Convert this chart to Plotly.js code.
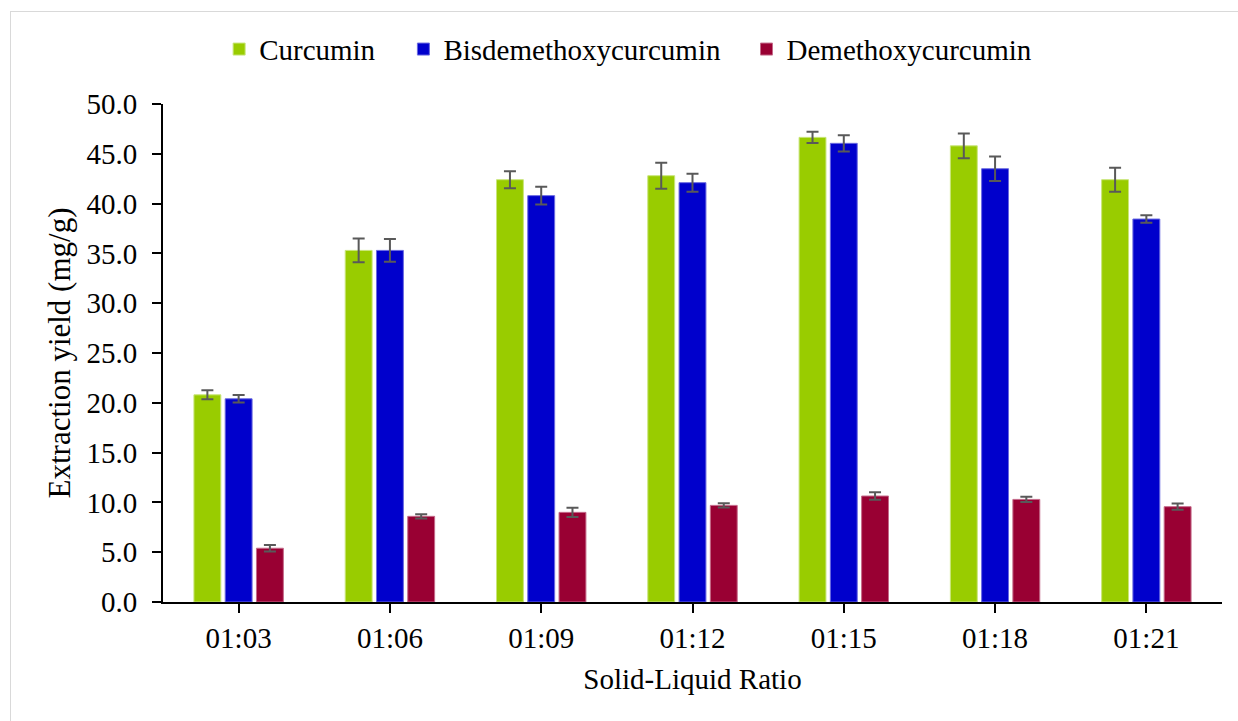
<!DOCTYPE html>
<html>
<head>
<meta charset="utf-8">
<script src="https://cdn.plot.ly/plotly-3.0.1.min.js"></script>
<style>
  html, body { margin: 0; padding: 0; background: #fff; }
  #wrap { position: relative; width: 1238px; height: 721px; }
  #chart { width: 1238px; height: 721px; }
  #frame { position: absolute; left: 10px; top: 11px; right: 0; bottom: 0;
           border-top: 1.5px solid #d9d9d9; border-left: 1.5px solid #d9d9d9;
           pointer-events: none; }
</style>
</head>
<body>
<div id="wrap">
  <div id="chart"></div>
  <div id="frame"></div>
</div>
<script>
const categories = ['01:03', '01:06', '01:09', '01:12', '01:15', '01:18', '01:21'];

const curcumin = [20.8, 35.3, 42.4, 42.8, 46.65, 45.8, 42.4];
const curcuminErr = [0.45, 1.2, 0.85, 1.3, 0.57, 1.24, 1.2];

const bisdemethoxy = [20.4, 35.3, 40.8, 42.1, 46.05, 43.5, 38.45];
const bisdemethoxyErr = [0.38, 1.15, 0.9, 0.9, 0.82, 1.24, 0.38];

const demethoxy = [5.4, 8.6, 9.0, 9.7, 10.64, 10.3, 9.57];
const demethoxyErr = [0.33, 0.22, 0.47, 0.22, 0.38, 0.27, 0.32];

const yTicks = [0, 5, 10, 15, 20, 25, 30, 35, 40, 45, 50];

const FONT = '"Liberation Serif", "Times New Roman", serif';

function errStyle(arr) {
  return { type: 'data', array: arr, visible: true, color: '#595959', thickness: 2, width: 6 };
}

const traces = [
  { type: 'bar', name: 'Curcumin', x: categories, y: curcumin, legend: 'legend',
    marker: { color: '#99CC00', line: { color: '#c9e57a', width: 1 } },
    error_y: errStyle(curcuminErr) },
  { type: 'bar', name: 'Bisdemethoxycurcumin', x: categories, y: bisdemethoxy, legend: 'legend2',
    marker: { color: '#0000CC', line: { color: '#6a6ae0', width: 1 } },
    error_y: errStyle(bisdemethoxyErr) },
  { type: 'bar', name: 'Demethoxycurcumin', x: categories, y: demethoxy, legend: 'legend3',
    marker: { color: '#990033', line: { color: '#c46a8a', width: 1 } },
    error_y: errStyle(demethoxyErr) }
];

function legendAt(x) {
  return {
    orientation: 'h', x: x, xanchor: 'left', y: 1.11, yanchor: 'middle',
    bgcolor: 'rgba(0,0,0,0)',
    font: { family: FONT, size: 29, color: '#000' },
    itemclick: false, itemdoubleclick: false
  };
}

const layout = {
  width: 1238, height: 721,
  margin: { l: 163, r: 16, t: 104, b: 119, pad: 0 },
  paper_bgcolor: '#fff', plot_bgcolor: '#fff',
  font: { family: FONT, size: 29, color: '#000' },
  barmode: 'group',
  bargap: 0.38,
  bargroupgap: 0.14,
  showlegend: true,
  legend: legendAt(0.053),
  legend2: legendAt(0.227),
  legend3: legendAt(0.551),
  xaxis: {
    type: 'category',
    showgrid: false, zeroline: false,
    showline: true, linecolor: '#000', linewidth: 2,
    ticks: 'outside', ticklen: 9, tickwidth: 2, tickcolor: '#000',
    tickfont: { family: FONT, size: 29, color: '#000' },
    title: { text: 'Solid-Liquid Ratio', font: { family: FONT, size: 29, color: '#000' }, standoff: 16 },
    fixedrange: true
  },
  yaxis: {
    range: [0, 50],
    tickvals: yTicks,
    ticktext: yTicks.map(v => v.toFixed(1)),
    showgrid: false, zeroline: false,
    showline: true, linecolor: '#000', linewidth: 2,
    ticks: 'outside', ticklen: 9, tickwidth: 2, tickcolor: '#000',
    ticklabelstandoff: 9,
    tickfont: { family: FONT, size: 29, color: '#000' },
    title: { text: 'Extraction yield (mg/g)', font: { family: FONT, size: 31, color: '#000' }, standoff: 7 },
    fixedrange: true
  }
};

Plotly.newPlot('chart', traces, layout, { displayModeBar: false, staticPlot: true });
</script>
</body>
</html>
